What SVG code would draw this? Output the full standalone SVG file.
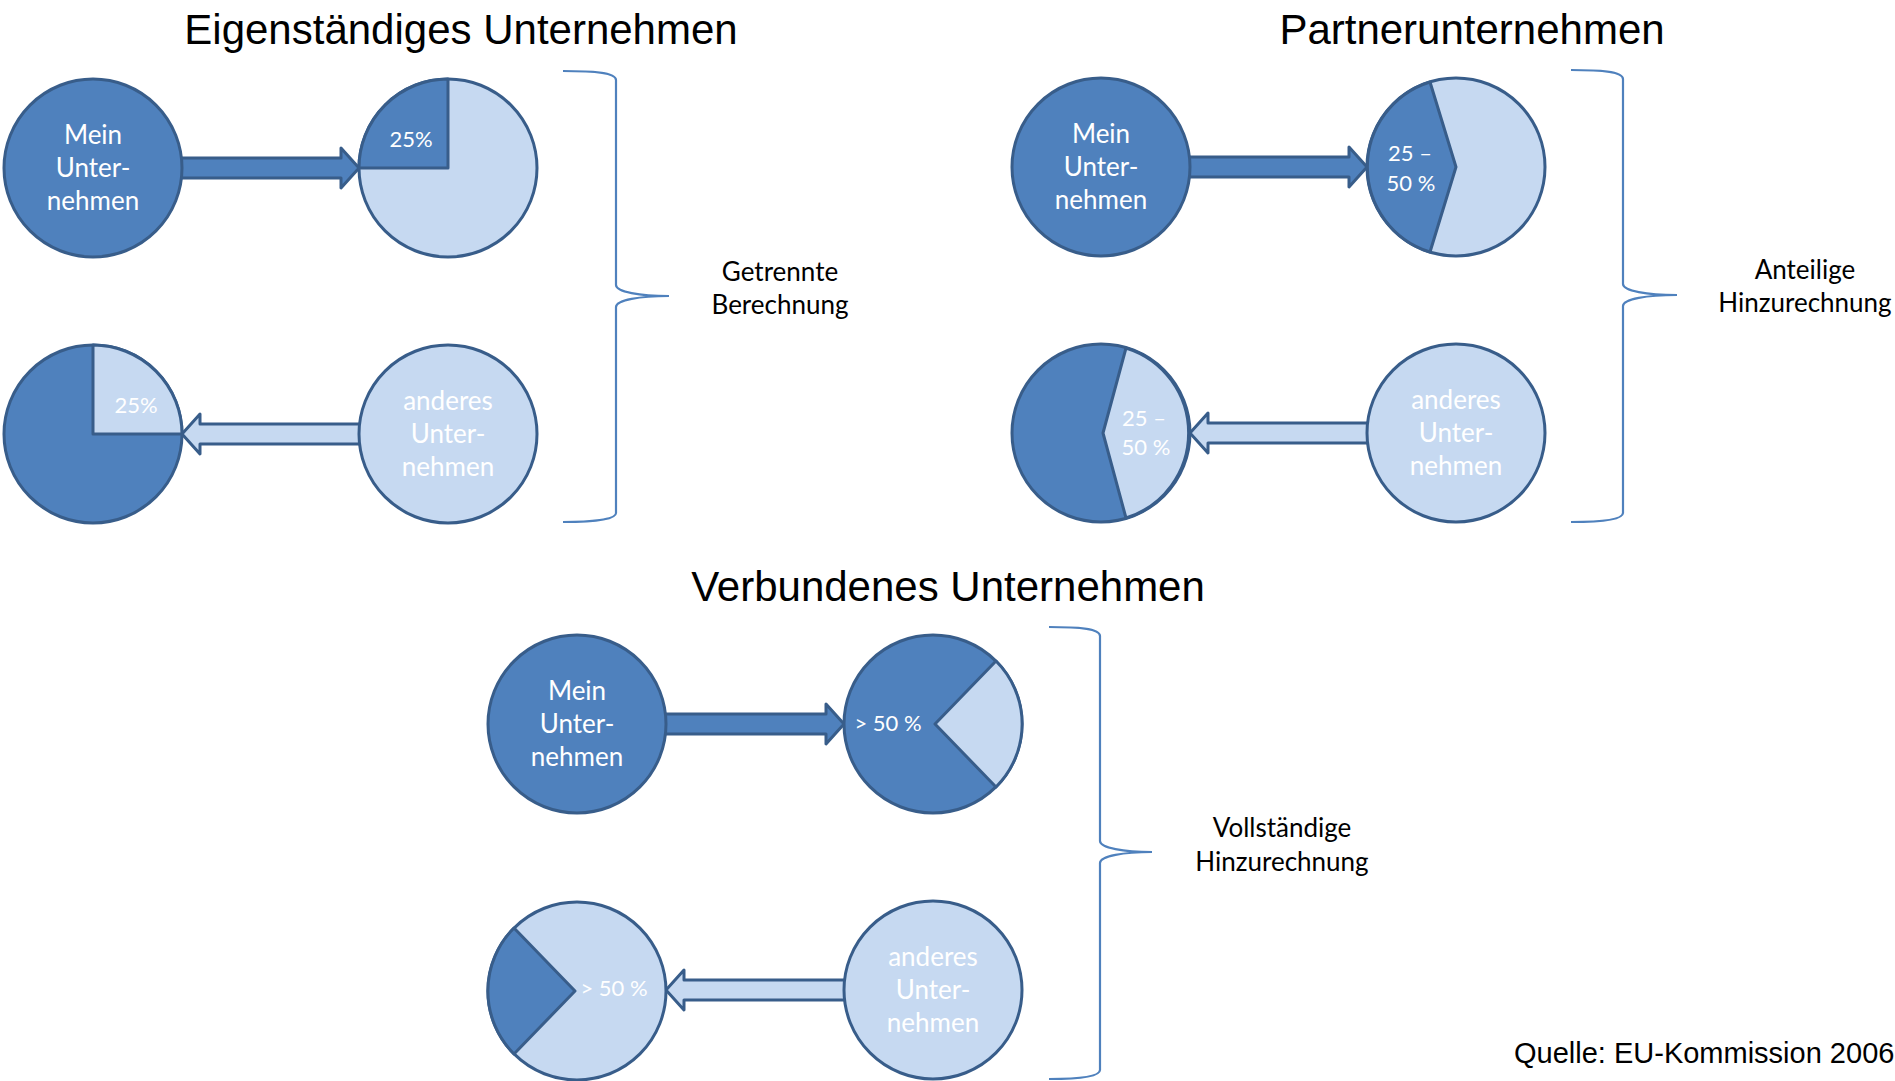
<svg xmlns="http://www.w3.org/2000/svg" width="1895" height="1081" viewBox="0 0 1895 1081">
<style>
.bg{fill:#ffffff}
.dark{fill:#4F81BD;stroke:#385D8A;stroke-width:3;stroke-linejoin:round}
.light{fill:#C6D9F1;stroke:#385D8A;stroke-width:3;stroke-linejoin:round}
.brace{fill:none;stroke:#4F81BD;stroke-width:2.2}
.title{font-family:"Liberation Sans",Arial,sans-serif;font-size:42px;fill:#000;text-anchor:middle}
.src{font-family:"Liberation Sans",Arial,sans-serif;font-size:29px;fill:#000}
.lbl{font-family:Lato,"Open Sans",sans-serif;font-size:26px;fill:#000;text-anchor:middle}
.ct{font-family:Lato,"Open Sans",sans-serif;font-size:26px;fill:#fff;text-anchor:middle}
.pt{font-family:Lato,"Open Sans",sans-serif;font-size:22px;fill:#fff;text-anchor:middle}
</style>
<rect class="bg" x="0" y="0" width="1895" height="1081"/>

<g id="titles">
<text class="title" x="461" y="44">Eigenständiges Unternehmen</text>
<text class="title" x="1472" y="44">Partnerunternehmen</text>
<text class="title" x="948" y="601">Verbundenes Unternehmen</text>
<text class="src" x="1514" y="1063">Quelle: EU-Kommission 2006</text>
</g>

<g id="connectors">
<path class="dark" d="M178,158 L341,158 L341,148 L359,168 L341,188 L341,178 L178,178 Z"/>
<path class="light" d="M363,424 L200,424 L200,414 L182,434 L200,454 L200,444 L363,444 Z"/>
<path class="dark" d="M1186,157 L1349,157 L1349,147 L1367,167 L1349,187 L1349,177 L1186,177 Z"/>
<path class="light" d="M1371,423 L1208,423 L1208,413 L1190,433 L1208,453 L1208,443 L1371,443 Z"/>
<path class="dark" d="M662,714 L826,714 L826,704 L844,724 L826,744 L826,734 L662,734 Z"/>
<path class="light" d="M848,980 L684,980 L684,970 L666,990 L684,1010 L684,1000 L848,1000 Z"/>
</g>

<g id="e-mein">
<circle class="dark" cx="93" cy="168" r="89"/>
<text class="ct" x="93" y="144">Mein</text>
<text class="ct" x="93" y="177">Unter-</text>
<text class="ct" x="93" y="210">nehmen</text>
</g>
<g id="e-pie-25-out">
<circle class="light" cx="448" cy="168" r="89"/>
<path class="dark" d="M448,168 L448,79 A89,89 0 0,0 359,168 Z"/>
<text class="pt" x="411" y="147">25%</text>
</g>
<g id="e-pie-25-in">
<circle class="dark" cx="93" cy="434" r="89"/>
<path class="light" d="M93,434 L93,345 A89,89 0 0,1 182,434 Z"/>
<text class="pt" x="136" y="413">25%</text>
</g>
<g id="e-anderes">
<circle class="light" cx="448" cy="434" r="89"/>
<text class="ct" x="448" y="410">anderes</text>
<text class="ct" x="448" y="443">Unter-</text>
<text class="ct" x="448" y="476">nehmen</text>
</g>
<g id="e-brace">
<path class="brace" d="M563,71 C590,71 616,72 616,80 L616,285 C616,292 640,296 669,296 C640,296 616,300 616,307 L616,513 C616,520 590,522 563,522"/>
<text class="lbl" x="780" y="281">Getrennte</text>
<text class="lbl" x="780" y="314">Berechnung</text>
</g>

<g id="p-mein">
<circle class="dark" cx="1101" cy="167" r="89"/>
<text class="ct" x="1101" y="143">Mein</text>
<text class="ct" x="1101" y="176">Unter-</text>
<text class="ct" x="1101" y="209">nehmen</text>
</g>
<g id="p-pie-out">
<circle class="light" cx="1456" cy="167" r="89"/>
<path class="dark" d="M1456,167 L1430,82 A89,89 0 0,0 1430,252 Z"/>
<text class="pt" x="1410" y="161">25 –</text>
<text class="pt" x="1411" y="191">50 %</text>
</g>
<g id="p-pie-in">
<circle class="dark" cx="1101" cy="433" r="89"/>
<path class="light" d="M1103,433 L1126,348 A89,89 0 0,1 1126,518 Z"/>
<text class="pt" x="1144" y="426">25 –</text>
<text class="pt" x="1146" y="455">50 %</text>
</g>
<g id="p-anderes">
<circle class="light" cx="1456" cy="433" r="89"/>
<text class="ct" x="1456" y="409">anderes</text>
<text class="ct" x="1456" y="442">Unter-</text>
<text class="ct" x="1456" y="475">nehmen</text>
</g>
<g id="p-brace">
<path class="brace" d="M1571,70 C1598,70 1623,71 1623,79 L1623,284 C1623,291 1647,295 1677,295 C1647,295 1623,299 1623,306 L1623,513 C1623,520 1598,522 1571,522"/>
<text class="lbl" x="1805" y="279">Anteilige</text>
<text class="lbl" x="1805" y="312">Hinzurechnung</text>
</g>

<g id="v-mein">
<circle class="dark" cx="577" cy="724" r="89"/>
<text class="ct" x="577" y="700">Mein</text>
<text class="ct" x="577" y="733">Unter-</text>
<text class="ct" x="577" y="766">nehmen</text>
</g>
<g id="v-pie-out">
<circle class="dark" cx="933" cy="724" r="89"/>
<path class="light" d="M935,724 L996,661 A89,89 0 0,1 996,787 Z"/>
<text class="pt" x="888" y="731">&gt; 50 %</text>
</g>
<g id="v-pie-in">
<circle class="light" cx="577" cy="991" r="89"/>
<path class="dark" d="M575,991 L514,928 A89,89 0 0,0 514,1054 Z"/>
<text class="pt" x="614" y="996">&gt; 50 %</text>
</g>
<g id="v-anderes">
<circle class="light" cx="933" cy="990" r="89"/>
<text class="ct" x="933" y="966">anderes</text>
<text class="ct" x="933" y="999">Unter-</text>
<text class="ct" x="933" y="1032">nehmen</text>
</g>
<g id="v-brace">
<path class="brace" d="M1049,627 C1076,627 1100,628 1100,636 L1100,841 C1100,848 1124,852 1152,852 C1124,852 1100,856 1100,863 L1100,1070 C1100,1077 1076,1079 1049,1079"/>
<text class="lbl" x="1282" y="837">Vollständige</text>
<text class="lbl" x="1282" y="871">Hinzurechnung</text>
</g>
</svg>
